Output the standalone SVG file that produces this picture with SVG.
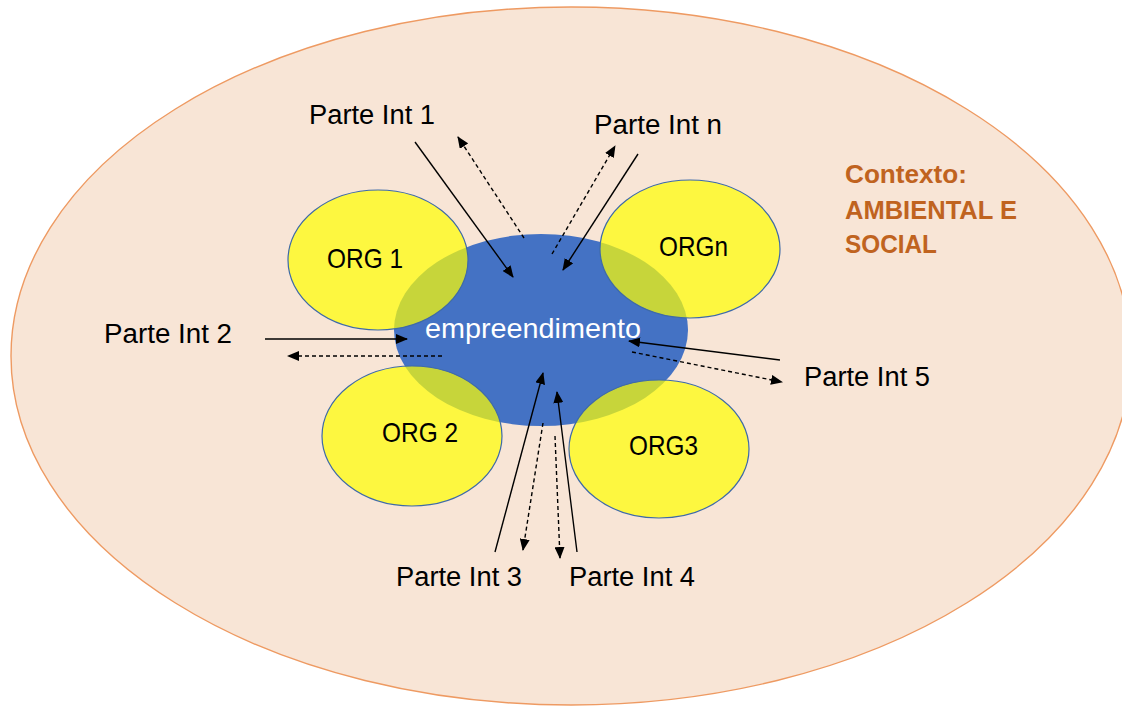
<svg xmlns="http://www.w3.org/2000/svg" width="1122" height="708" viewBox="0 0 1122 708">
<style>
.lbl{font-family:"Liberation Sans",Arial,sans-serif;font-size:27px;fill:#000}
.orgt{font-family:"Liberation Sans",Arial,sans-serif;font-size:28px;fill:#000}
.org{fill:#FFFF00;fill-opacity:0.7;stroke:#3E6AA8;stroke-width:1.2}
.ctx{font-family:"Liberation Sans",Arial,sans-serif;font-size:26px;font-weight:bold;fill:#C0631F}
.solid{stroke:#000;stroke-width:1.4;fill:none;marker-end:url(#ah)}
.dash{stroke:#000;stroke-width:1.4;fill:none;stroke-dasharray:4 3;marker-end:url(#ah)}
</style>
<defs>
<marker id="ah" markerUnits="userSpaceOnUse" markerWidth="12" markerHeight="10" viewBox="0 0 12 10" refX="11" refY="5" orient="auto">
<path d="M0,0 L12,5 L0,10 z" fill="#000"/>
</marker>
</defs>
<rect width="1122" height="708" fill="#fff"/>
<g id="contexto">
<ellipse cx="571" cy="356" rx="560" ry="349" fill="#F8E5D6" stroke="#EE9A62" stroke-width="1.4"/>
<text class="ctx" x="845" y="183" textLength="122" lengthAdjust="spacingAndGlyphs">Contexto:</text>
<text class="ctx" x="845" y="219" textLength="172" lengthAdjust="spacingAndGlyphs">AMBIENTAL E</text>
<text class="ctx" x="845" y="253" textLength="92" lengthAdjust="spacingAndGlyphs">SOCIAL</text>
</g>
<g id="empreendimento">
<ellipse cx="541" cy="330" rx="147" ry="96" fill="#4472C4"/>
</g>
<g id="org1">
<ellipse class="org" cx="378" cy="260" rx="90" ry="70"/>
<text class="orgt" x="327" y="268" textLength="76" lengthAdjust="spacingAndGlyphs">ORG 1</text>
</g>
<g id="orgn">
<ellipse class="org" cx="690" cy="249" rx="90" ry="69"/>
<text class="orgt" x="659" y="256" textLength="69" lengthAdjust="spacingAndGlyphs">ORGn</text>
</g>
<g id="org2">
<ellipse class="org" cx="412" cy="436" rx="90" ry="70"/>
<text class="orgt" x="382" y="442" textLength="76" lengthAdjust="spacingAndGlyphs">ORG 2</text>
</g>
<g id="org3">
<ellipse class="org" cx="659" cy="449" rx="90" ry="69"/>
<text class="orgt" x="629" y="455" textLength="69" lengthAdjust="spacingAndGlyphs">ORG3</text>
</g>
<g id="empreendimento-label">
<text x="425" y="338" textLength="216" lengthAdjust="spacingAndGlyphs" style="font-family:'Liberation Sans',Arial,sans-serif;font-size:28px;fill:#fff">empreendimento</text>
</g>
<g id="parte-int-1"><text class="lbl" x="309" y="124" textLength="126" lengthAdjust="spacingAndGlyphs">Parte Int 1</text></g>
<g id="parte-int-n"><text class="lbl" x="594" y="134" textLength="128" lengthAdjust="spacingAndGlyphs">Parte Int n</text></g>
<g id="parte-int-2"><text class="lbl" x="104" y="343" textLength="128" lengthAdjust="spacingAndGlyphs">Parte Int 2</text></g>
<g id="parte-int-5"><text class="lbl" x="804" y="386" textLength="126" lengthAdjust="spacingAndGlyphs">Parte Int 5</text></g>
<g id="parte-int-3"><text class="lbl" x="396" y="586" textLength="126" lengthAdjust="spacingAndGlyphs">Parte Int 3</text></g>
<g id="parte-int-4"><text class="lbl" x="569" y="586" textLength="126" lengthAdjust="spacingAndGlyphs">Parte Int 4</text></g>
<g id="connectors">
<line class="solid" x1="415" y1="142" x2="513" y2="277"/>
<line class="dash" x1="524" y1="238" x2="458" y2="137"/>
<line class="solid" x1="638" y1="154" x2="563" y2="270"/>
<line class="dash" x1="552" y1="254" x2="615" y2="146"/>
<line class="solid" x1="265" y1="339" x2="407" y2="339"/>
<line class="dash" x1="442" y1="356" x2="288" y2="356"/>
<line class="solid" x1="780" y1="360" x2="629" y2="341"/>
<line class="dash" x1="632" y1="352" x2="782" y2="382"/>
<line class="solid" x1="495" y1="552" x2="543" y2="373"/>
<line class="dash" x1="543" y1="423" x2="523" y2="550"/>
<line class="solid" x1="577" y1="552" x2="557" y2="392"/>
<line class="dash" x1="555" y1="436" x2="560" y2="558"/>
</g>
</svg>
